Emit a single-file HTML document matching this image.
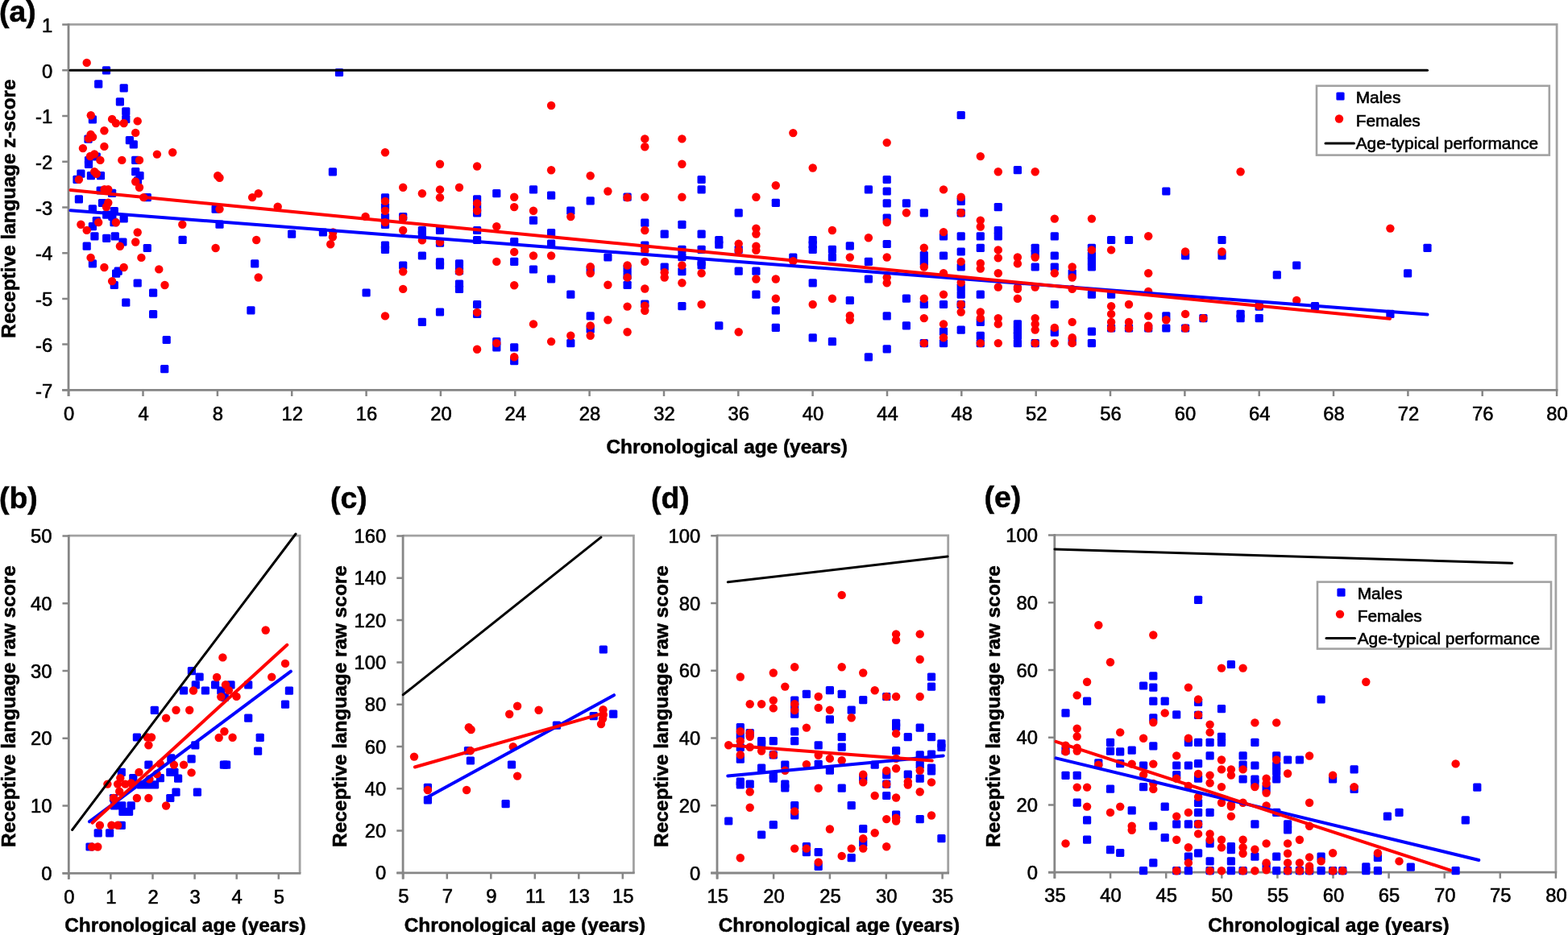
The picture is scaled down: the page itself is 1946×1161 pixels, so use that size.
<!DOCTYPE html>
<html lang="en"><head><meta charset="utf-8"><title>Receptive language by chronological age</title>
<style>
html,body{margin:0;padding:0;background:#fff;}
body{width:1946px;height:1161px;overflow:hidden;}
svg{display:block;font-family:'Liberation Sans', sans-serif;}
</style></head><body>
<svg width="1946" height="1161" viewBox="0 0 1946 1161">
<rect width="1946" height="1161" fill="#fff"/>
<g id="panel-a">
<path d="M85.2,30.3 H1932.1 V484.4" fill="none" stroke="#a2a2a2" stroke-width="2.8"/>
<path d="M85.0,29.1 V491.9 M77.2,484.4 H1933.4" fill="none" stroke="#868686" stroke-width="2.8"/>
<path d="M85.2,484.4 V491.9 M177.5,484.4 V491.9 M269.9,484.4 V491.9 M362.2,484.4 V491.9 M454.6,484.4 V491.9 M546.9,484.4 V491.9 M639.3,484.4 V491.9 M731.6,484.4 V491.9 M824.0,484.4 V491.9 M916.3,484.4 V491.9 M1008.6,484.4 V491.9 M1101.0,484.4 V491.9 M1193.3,484.4 V491.9 M1285.7,484.4 V491.9 M1378.0,484.4 V491.9 M1470.4,484.4 V491.9 M1562.7,484.4 V491.9 M1655.0,484.4 V491.9 M1747.4,484.4 V491.9 M1839.7,484.4 V491.9 M1932.1,484.4 V491.9 M77.2,30.6 H85.2 M77.2,87.3 H85.2 M77.2,144.0 H85.2 M77.2,200.7 H85.2 M77.2,257.5 H85.2 M77.2,314.2 H85.2 M77.2,370.9 H85.2 M77.2,427.6 H85.2 M77.2,484.3 H85.2" fill="none" stroke="#868686" stroke-width="2.5"/>
<g fill="#0000ff"><rect x="126.9" y="82.3" width="10.2" height="10.2" rx="1.5"/><rect x="117.1" y="99.3" width="10.2" height="10.2" rx="1.5"/><rect x="148.6" y="104.3" width="10.2" height="10.2" rx="1.5"/><rect x="143.8" y="121.3" width="10.2" height="10.2" rx="1.5"/><rect x="151.2" y="133.2" width="10.2" height="10.2" rx="1.5"/><rect x="151.2" y="142.8" width="10.2" height="10.2" rx="1.5"/><rect x="109.8" y="143.3" width="10.2" height="10.2" rx="1.5"/><rect x="104.4" y="167.6" width="10.2" height="10.2" rx="1.5"/><rect x="155.8" y="169.1" width="10.2" height="10.2" rx="1.5"/><rect x="160.7" y="174.3" width="10.2" height="10.2" rx="1.5"/><rect x="104.9" y="194.0" width="10.2" height="10.2" rx="1.5"/><rect x="104.9" y="198.9" width="10.2" height="10.2" rx="1.5"/><rect x="114.7" y="189.4" width="10.2" height="10.2" rx="1.5"/><rect x="163.1" y="193.8" width="10.2" height="10.2" rx="1.5"/><rect x="95.3" y="210.6" width="10.2" height="10.2" rx="1.5"/><rect x="163.1" y="208.0" width="10.2" height="10.2" rx="1.5"/><rect x="168.4" y="213.1" width="10.2" height="10.2" rx="1.5"/><rect x="90.4" y="217.8" width="10.2" height="10.2" rx="1.5"/><rect x="107.8" y="213.1" width="10.2" height="10.2" rx="1.5"/><rect x="119.9" y="213.1" width="10.2" height="10.2" rx="1.5"/><rect x="165.9" y="219.3" width="10.2" height="10.2" rx="1.5"/><rect x="119.6" y="231.4" width="10.2" height="10.2" rx="1.5"/><rect x="134.0" y="234.8" width="10.2" height="10.2" rx="1.5"/><rect x="177.7" y="240.0" width="10.2" height="10.2" rx="1.5"/><rect x="92.8" y="242.3" width="10.2" height="10.2" rx="1.5"/><rect x="121.9" y="246.9" width="10.2" height="10.2" rx="1.5"/><rect x="109.8" y="254.3" width="10.2" height="10.2" rx="1.5"/><rect x="136.7" y="257.1" width="10.2" height="10.2" rx="1.5"/><rect x="127.1" y="261.5" width="10.2" height="10.2" rx="1.5"/><rect x="134.3" y="263.8" width="10.2" height="10.2" rx="1.5"/><rect x="262.5" y="254.5" width="10.2" height="10.2" rx="1.5"/><rect x="148.6" y="266.4" width="10.2" height="10.2" rx="1.5"/><rect x="114.7" y="269.0" width="10.2" height="10.2" rx="1.5"/><rect x="136.4" y="271.0" width="10.2" height="10.2" rx="1.5"/><rect x="109.8" y="276.0" width="10.2" height="10.2" rx="1.5"/><rect x="267.4" y="273.6" width="10.2" height="10.2" rx="1.5"/><rect x="112.3" y="288.3" width="10.2" height="10.2" rx="1.5"/><rect x="137.7" y="288.3" width="10.2" height="10.2" rx="1.5"/><rect x="127.1" y="290.7" width="10.2" height="10.2" rx="1.5"/><rect x="221.5" y="292.7" width="10.2" height="10.2" rx="1.5"/><rect x="102.6" y="300.6" width="10.2" height="10.2" rx="1.5"/><rect x="147.3" y="295.4" width="10.2" height="10.2" rx="1.5"/><rect x="177.7" y="302.9" width="10.2" height="10.2" rx="1.5"/><rect x="109.8" y="322.3" width="10.2" height="10.2" rx="1.5"/><rect x="141.6" y="331.6" width="10.2" height="10.2" rx="1.5"/><rect x="139.0" y="334.5" width="10.2" height="10.2" rx="1.5"/><rect x="136.7" y="348.9" width="10.2" height="10.2" rx="1.5"/><rect x="165.6" y="346.4" width="10.2" height="10.2" rx="1.5"/><rect x="185.0" y="358.5" width="10.2" height="10.2" rx="1.5"/><rect x="151.2" y="370.6" width="10.2" height="10.2" rx="1.5"/><rect x="185.0" y="385.0" width="10.2" height="10.2" rx="1.5"/><rect x="201.6" y="416.9" width="10.2" height="10.2" rx="1.5"/><rect x="199.1" y="453.0" width="10.2" height="10.2" rx="1.5"/><rect x="407.8" y="208.2" width="10.2" height="10.2" rx="1.5"/><rect x="357.0" y="285.5" width="10.2" height="10.2" rx="1.5"/><rect x="395.8" y="283.4" width="10.2" height="10.2" rx="1.5"/><rect x="311.1" y="322.3" width="10.2" height="10.2" rx="1.5"/><rect x="472.9" y="240.2" width="10.2" height="10.2" rx="1.5"/><rect x="472.9" y="252.0" width="10.2" height="10.2" rx="1.5"/><rect x="472.9" y="264.4" width="10.2" height="10.2" rx="1.5"/><rect x="472.9" y="273.7" width="10.2" height="10.2" rx="1.5"/><rect x="472.9" y="299.6" width="10.2" height="10.2" rx="1.5"/><rect x="472.9" y="304.7" width="10.2" height="10.2" rx="1.5"/><rect x="495.1" y="264.0" width="10.2" height="10.2" rx="1.5"/><rect x="495.1" y="324.4" width="10.2" height="10.2" rx="1.5"/><rect x="518.8" y="280.9" width="10.2" height="10.2" rx="1.5"/><rect x="518.8" y="286.1" width="10.2" height="10.2" rx="1.5"/><rect x="518.8" y="312.4" width="10.2" height="10.2" rx="1.5"/><rect x="540.9" y="280.9" width="10.2" height="10.2" rx="1.5"/><rect x="540.9" y="296.5" width="10.2" height="10.2" rx="1.5"/><rect x="540.9" y="320.2" width="10.2" height="10.2" rx="1.5"/><rect x="540.9" y="324.4" width="10.2" height="10.2" rx="1.5"/><rect x="564.9" y="322.3" width="10.2" height="10.2" rx="1.5"/><rect x="587.0" y="242.3" width="10.2" height="10.2" rx="1.5"/><rect x="587.0" y="252.0" width="10.2" height="10.2" rx="1.5"/><rect x="587.0" y="259.2" width="10.2" height="10.2" rx="1.5"/><rect x="587.0" y="280.9" width="10.2" height="10.2" rx="1.5"/><rect x="587.0" y="292.9" width="10.2" height="10.2" rx="1.5"/><rect x="611.2" y="235.1" width="10.2" height="10.2" rx="1.5"/><rect x="633.1" y="295.0" width="10.2" height="10.2" rx="1.5"/><rect x="633.1" y="319.8" width="10.2" height="10.2" rx="1.5"/><rect x="656.9" y="230.3" width="10.2" height="10.2" rx="1.5"/><rect x="656.9" y="268.5" width="10.2" height="10.2" rx="1.5"/><rect x="679.0" y="237.5" width="10.2" height="10.2" rx="1.5"/><rect x="679.0" y="284.0" width="10.2" height="10.2" rx="1.5"/><rect x="679.0" y="297.5" width="10.2" height="10.2" rx="1.5"/><rect x="703.2" y="256.6" width="10.2" height="10.2" rx="1.5"/><rect x="727.6" y="244.2" width="10.2" height="10.2" rx="1.5"/><rect x="749.3" y="314.4" width="10.2" height="10.2" rx="1.5"/><rect x="773.5" y="239.6" width="10.2" height="10.2" rx="1.5"/><rect x="773.5" y="328.5" width="10.2" height="10.2" rx="1.5"/><rect x="795.2" y="271.6" width="10.2" height="10.2" rx="1.5"/><rect x="795.2" y="299.6" width="10.2" height="10.2" rx="1.5"/><rect x="819.6" y="285.5" width="10.2" height="10.2" rx="1.5"/><rect x="819.6" y="326.4" width="10.2" height="10.2" rx="1.5"/><rect x="841.3" y="273.7" width="10.2" height="10.2" rx="1.5"/><rect x="841.3" y="304.7" width="10.2" height="10.2" rx="1.5"/><rect x="841.3" y="314.0" width="10.2" height="10.2" rx="1.5"/><rect x="865.5" y="217.9" width="10.2" height="10.2" rx="1.5"/><rect x="865.5" y="230.3" width="10.2" height="10.2" rx="1.5"/><rect x="865.5" y="285.5" width="10.2" height="10.2" rx="1.5"/><rect x="865.5" y="304.7" width="10.2" height="10.2" rx="1.5"/><rect x="865.5" y="320.2" width="10.2" height="10.2" rx="1.5"/><rect x="865.5" y="324.4" width="10.2" height="10.2" rx="1.5"/><rect x="887.2" y="292.9" width="10.2" height="10.2" rx="1.5"/><rect x="887.2" y="298.5" width="10.2" height="10.2" rx="1.5"/><rect x="911.6" y="259.2" width="10.2" height="10.2" rx="1.5"/><rect x="911.6" y="304.7" width="10.2" height="10.2" rx="1.5"/><rect x="957.7" y="246.8" width="10.2" height="10.2" rx="1.5"/><rect x="979.2" y="314.4" width="10.2" height="10.2" rx="1.5"/><rect x="1003.6" y="292.9" width="10.2" height="10.2" rx="1.5"/><rect x="1003.6" y="298.5" width="10.2" height="10.2" rx="1.5"/><rect x="1003.6" y="304.7" width="10.2" height="10.2" rx="1.5"/><rect x="1027.8" y="304.7" width="10.2" height="10.2" rx="1.5"/><rect x="1027.8" y="314.4" width="10.2" height="10.2" rx="1.5"/><rect x="1049.7" y="300.2" width="10.2" height="10.2" rx="1.5"/><rect x="1072.8" y="230.3" width="10.2" height="10.2" rx="1.5"/><rect x="1072.8" y="319.8" width="10.2" height="10.2" rx="1.5"/><rect x="1095.6" y="217.9" width="10.2" height="10.2" rx="1.5"/><rect x="1095.6" y="232.4" width="10.2" height="10.2" rx="1.5"/><rect x="1095.6" y="247.3" width="10.2" height="10.2" rx="1.5"/><rect x="1095.6" y="265.4" width="10.2" height="10.2" rx="1.5"/><rect x="1095.6" y="297.9" width="10.2" height="10.2" rx="1.5"/><rect x="1119.8" y="247.3" width="10.2" height="10.2" rx="1.5"/><rect x="1141.7" y="259.2" width="10.2" height="10.2" rx="1.5"/><rect x="1141.7" y="312.0" width="10.2" height="10.2" rx="1.5"/><rect x="1141.7" y="320.2" width="10.2" height="10.2" rx="1.5"/><rect x="1165.9" y="288.2" width="10.2" height="10.2" rx="1.5"/><rect x="1165.9" y="312.4" width="10.2" height="10.2" rx="1.5"/><rect x="1187.6" y="137.9" width="10.2" height="10.2" rx="1.5"/><rect x="1187.6" y="244.8" width="10.2" height="10.2" rx="1.5"/><rect x="1187.6" y="259.2" width="10.2" height="10.2" rx="1.5"/><rect x="1187.6" y="288.2" width="10.2" height="10.2" rx="1.5"/><rect x="1187.6" y="307.4" width="10.2" height="10.2" rx="1.5"/><rect x="1187.6" y="326.4" width="10.2" height="10.2" rx="1.5"/><rect x="1211.7" y="288.2" width="10.2" height="10.2" rx="1.5"/><rect x="1211.7" y="302.7" width="10.2" height="10.2" rx="1.5"/><rect x="1233.7" y="252.0" width="10.2" height="10.2" rx="1.5"/><rect x="1233.7" y="280.9" width="10.2" height="10.2" rx="1.5"/><rect x="1233.7" y="288.2" width="10.2" height="10.2" rx="1.5"/><rect x="1257.8" y="206.1" width="10.2" height="10.2" rx="1.5"/><rect x="1279.6" y="302.7" width="10.2" height="10.2" rx="1.5"/><rect x="1279.6" y="309.9" width="10.2" height="10.2" rx="1.5"/><rect x="1279.6" y="326.4" width="10.2" height="10.2" rx="1.5"/><rect x="1303.7" y="288.2" width="10.2" height="10.2" rx="1.5"/><rect x="1303.7" y="312.4" width="10.2" height="10.2" rx="1.5"/><rect x="1303.7" y="326.4" width="10.2" height="10.2" rx="1.5"/><rect x="1349.8" y="302.7" width="10.2" height="10.2" rx="1.5"/><rect x="1349.8" y="312.0" width="10.2" height="10.2" rx="1.5"/><rect x="1349.8" y="319.2" width="10.2" height="10.2" rx="1.5"/><rect x="1349.8" y="326.4" width="10.2" height="10.2" rx="1.5"/><rect x="1374.0" y="292.9" width="10.2" height="10.2" rx="1.5"/><rect x="1395.9" y="292.9" width="10.2" height="10.2" rx="1.5"/><rect x="1442.2" y="232.4" width="10.2" height="10.2" rx="1.5"/><rect x="1466.0" y="312.4" width="10.2" height="10.2" rx="1.5"/><rect x="1511.4" y="292.9" width="10.2" height="10.2" rx="1.5"/><rect x="1511.4" y="312.4" width="10.2" height="10.2" rx="1.5"/><rect x="1604.1" y="324.4" width="10.2" height="10.2" rx="1.5"/><rect x="1766.4" y="302.7" width="10.2" height="10.2" rx="1.5"/><rect x="306.3" y="380.3" width="10.2" height="10.2" rx="1.5"/><rect x="449.5" y="358.4" width="10.2" height="10.2" rx="1.5"/><rect x="518.8" y="394.8" width="10.2" height="10.2" rx="1.5"/><rect x="540.9" y="382.4" width="10.2" height="10.2" rx="1.5"/><rect x="564.9" y="331.1" width="10.2" height="10.2" rx="1.5"/><rect x="564.9" y="347.6" width="10.2" height="10.2" rx="1.5"/><rect x="564.9" y="353.8" width="10.2" height="10.2" rx="1.5"/><rect x="587.0" y="372.9" width="10.2" height="10.2" rx="1.5"/><rect x="587.0" y="384.8" width="10.2" height="10.2" rx="1.5"/><rect x="611.2" y="419.0" width="10.2" height="10.2" rx="1.5"/><rect x="611.2" y="426.2" width="10.2" height="10.2" rx="1.5"/><rect x="633.1" y="426.2" width="10.2" height="10.2" rx="1.5"/><rect x="633.1" y="443.1" width="10.2" height="10.2" rx="1.5"/><rect x="656.9" y="329.4" width="10.2" height="10.2" rx="1.5"/><rect x="679.0" y="341.4" width="10.2" height="10.2" rx="1.5"/><rect x="703.2" y="360.5" width="10.2" height="10.2" rx="1.5"/><rect x="703.2" y="421.0" width="10.2" height="10.2" rx="1.5"/><rect x="727.6" y="329.4" width="10.2" height="10.2" rx="1.5"/><rect x="727.6" y="387.3" width="10.2" height="10.2" rx="1.5"/><rect x="727.6" y="403.5" width="10.2" height="10.2" rx="1.5"/><rect x="773.5" y="337.3" width="10.2" height="10.2" rx="1.5"/><rect x="773.5" y="348.7" width="10.2" height="10.2" rx="1.5"/><rect x="795.2" y="372.4" width="10.2" height="10.2" rx="1.5"/><rect x="841.3" y="332.1" width="10.2" height="10.2" rx="1.5"/><rect x="841.3" y="375.1" width="10.2" height="10.2" rx="1.5"/><rect x="887.2" y="399.3" width="10.2" height="10.2" rx="1.5"/><rect x="911.6" y="331.5" width="10.2" height="10.2" rx="1.5"/><rect x="933.3" y="331.5" width="10.2" height="10.2" rx="1.5"/><rect x="933.3" y="360.5" width="10.2" height="10.2" rx="1.5"/><rect x="957.7" y="380.3" width="10.2" height="10.2" rx="1.5"/><rect x="957.7" y="401.8" width="10.2" height="10.2" rx="1.5"/><rect x="1003.6" y="346.2" width="10.2" height="10.2" rx="1.5"/><rect x="1003.6" y="414.2" width="10.2" height="10.2" rx="1.5"/><rect x="1027.8" y="419.0" width="10.2" height="10.2" rx="1.5"/><rect x="1049.7" y="367.9" width="10.2" height="10.2" rx="1.5"/><rect x="1072.8" y="341.4" width="10.2" height="10.2" rx="1.5"/><rect x="1072.8" y="438.2" width="10.2" height="10.2" rx="1.5"/><rect x="1095.6" y="387.3" width="10.2" height="10.2" rx="1.5"/><rect x="1095.6" y="428.3" width="10.2" height="10.2" rx="1.5"/><rect x="1119.8" y="365.6" width="10.2" height="10.2" rx="1.5"/><rect x="1119.8" y="399.3" width="10.2" height="10.2" rx="1.5"/><rect x="1141.7" y="372.9" width="10.2" height="10.2" rx="1.5"/><rect x="1141.7" y="421.0" width="10.2" height="10.2" rx="1.5"/><rect x="1165.9" y="372.9" width="10.2" height="10.2" rx="1.5"/><rect x="1165.9" y="406.6" width="10.2" height="10.2" rx="1.5"/><rect x="1165.9" y="421.0" width="10.2" height="10.2" rx="1.5"/><rect x="1187.6" y="351.8" width="10.2" height="10.2" rx="1.5"/><rect x="1187.6" y="360.5" width="10.2" height="10.2" rx="1.5"/><rect x="1187.6" y="372.9" width="10.2" height="10.2" rx="1.5"/><rect x="1187.6" y="404.5" width="10.2" height="10.2" rx="1.5"/><rect x="1211.7" y="360.5" width="10.2" height="10.2" rx="1.5"/><rect x="1211.7" y="394.8" width="10.2" height="10.2" rx="1.5"/><rect x="1211.7" y="411.7" width="10.2" height="10.2" rx="1.5"/><rect x="1211.7" y="421.0" width="10.2" height="10.2" rx="1.5"/><rect x="1257.8" y="397.3" width="10.2" height="10.2" rx="1.5"/><rect x="1257.8" y="404.5" width="10.2" height="10.2" rx="1.5"/><rect x="1257.8" y="411.7" width="10.2" height="10.2" rx="1.5"/><rect x="1257.8" y="421.0" width="10.2" height="10.2" rx="1.5"/><rect x="1279.6" y="421.0" width="10.2" height="10.2" rx="1.5"/><rect x="1303.7" y="372.9" width="10.2" height="10.2" rx="1.5"/><rect x="1303.7" y="407.6" width="10.2" height="10.2" rx="1.5"/><rect x="1325.6" y="334.2" width="10.2" height="10.2" rx="1.5"/><rect x="1325.6" y="419.0" width="10.2" height="10.2" rx="1.5"/><rect x="1349.8" y="360.5" width="10.2" height="10.2" rx="1.5"/><rect x="1349.8" y="406.6" width="10.2" height="10.2" rx="1.5"/><rect x="1349.8" y="421.0" width="10.2" height="10.2" rx="1.5"/><rect x="1374.0" y="360.5" width="10.2" height="10.2" rx="1.5"/><rect x="1374.0" y="402.4" width="10.2" height="10.2" rx="1.5"/><rect x="1395.9" y="402.4" width="10.2" height="10.2" rx="1.5"/><rect x="1420.1" y="402.4" width="10.2" height="10.2" rx="1.5"/><rect x="1442.2" y="387.3" width="10.2" height="10.2" rx="1.5"/><rect x="1442.2" y="402.4" width="10.2" height="10.2" rx="1.5"/><rect x="1466.0" y="402.4" width="10.2" height="10.2" rx="1.5"/><rect x="1488.3" y="390.0" width="10.2" height="10.2" rx="1.5"/><rect x="1534.5" y="384.8" width="10.2" height="10.2" rx="1.5"/><rect x="1534.5" y="390.0" width="10.2" height="10.2" rx="1.5"/><rect x="1557.6" y="375.5" width="10.2" height="10.2" rx="1.5"/><rect x="1557.6" y="390.0" width="10.2" height="10.2" rx="1.5"/><rect x="1579.7" y="336.3" width="10.2" height="10.2" rx="1.5"/><rect x="1626.9" y="375.1" width="10.2" height="10.2" rx="1.5"/><rect x="1720.3" y="384.8" width="10.2" height="10.2" rx="1.5"/><rect x="1742.0" y="334.2" width="10.2" height="10.2" rx="1.5"/><rect x="415.9" y="84.9" width="10.2" height="10.2" rx="1.5"/></g>
<g fill="#ff0000"><circle cx="107.7" cy="77.9" r="5.2"/><circle cx="112.8" cy="143.2" r="5.2"/><circle cx="139.1" cy="147.9" r="5.2"/><circle cx="143.9" cy="153.0" r="5.2"/><circle cx="153.7" cy="153.0" r="5.2"/><circle cx="170.7" cy="150.4" r="5.2"/><circle cx="129.4" cy="162.3" r="5.2"/><circle cx="168.2" cy="164.9" r="5.2"/><circle cx="112.6" cy="167.0" r="5.2"/><circle cx="115.1" cy="170.1" r="5.2"/><circle cx="110.0" cy="172.1" r="5.2"/><circle cx="102.9" cy="184.1" r="5.2"/><circle cx="129.4" cy="181.9" r="5.2"/><circle cx="112.0" cy="194.0" r="5.2"/><circle cx="117.2" cy="191.4" r="5.2"/><circle cx="124.4" cy="198.9" r="5.2"/><circle cx="151.3" cy="198.9" r="5.2"/><circle cx="173.0" cy="198.9" r="5.2"/><circle cx="194.9" cy="191.6" r="5.2"/><circle cx="214.2" cy="189.3" r="5.2"/><circle cx="117.2" cy="213.1" r="5.2"/><circle cx="119.8" cy="215.7" r="5.2"/><circle cx="97.9" cy="222.9" r="5.2"/><circle cx="270.2" cy="218.2" r="5.2"/><circle cx="272.5" cy="220.8" r="5.2"/><circle cx="168.2" cy="225.5" r="5.2"/><circle cx="173.0" cy="232.7" r="5.2"/><circle cx="129.6" cy="235.3" r="5.2"/><circle cx="134.3" cy="235.3" r="5.2"/><circle cx="178.2" cy="245.1" r="5.2"/><circle cx="134.3" cy="251.8" r="5.2"/><circle cx="132.0" cy="257.0" r="5.2"/><circle cx="272.5" cy="259.6" r="5.2"/><circle cx="122.2" cy="276.1" r="5.2"/><circle cx="143.9" cy="276.3" r="5.2"/><circle cx="100.4" cy="278.7" r="5.2"/><circle cx="107.7" cy="285.9" r="5.2"/><circle cx="226.3" cy="278.7" r="5.2"/><circle cx="170.7" cy="288.5" r="5.2"/><circle cx="168.2" cy="300.5" r="5.2"/><circle cx="148.9" cy="305.7" r="5.2"/><circle cx="267.6" cy="308.0" r="5.2"/><circle cx="112.6" cy="319.9" r="5.2"/><circle cx="175.4" cy="319.9" r="5.2"/><circle cx="129.4" cy="332.0" r="5.2"/><circle cx="153.7" cy="332.0" r="5.2"/><circle cx="197.3" cy="334.4" r="5.2"/><circle cx="139.1" cy="349.1" r="5.2"/><circle cx="204.5" cy="354.0" r="5.2"/><circle cx="313.1" cy="245.1" r="5.2"/><circle cx="320.7" cy="240.2" r="5.2"/><circle cx="344.7" cy="256.7" r="5.2"/><circle cx="318.2" cy="298.0" r="5.2"/><circle cx="413.3" cy="288.5" r="5.2"/><circle cx="412.9" cy="294.3" r="5.2"/><circle cx="410.2" cy="303.2" r="5.2"/><circle cx="453.6" cy="268.9" r="5.2"/><circle cx="478.0" cy="189.3" r="5.2"/><circle cx="478.0" cy="249.9" r="5.2"/><circle cx="478.0" cy="261.7" r="5.2"/><circle cx="478.0" cy="276.1" r="5.2"/><circle cx="500.2" cy="232.7" r="5.2"/><circle cx="500.2" cy="270.5" r="5.2"/><circle cx="500.2" cy="286.0" r="5.2"/><circle cx="523.9" cy="240.2" r="5.2"/><circle cx="523.9" cy="298.4" r="5.2"/><circle cx="546.0" cy="203.8" r="5.2"/><circle cx="546.0" cy="235.4" r="5.2"/><circle cx="546.0" cy="245.3" r="5.2"/><circle cx="546.0" cy="300.5" r="5.2"/><circle cx="570.0" cy="232.7" r="5.2"/><circle cx="592.1" cy="206.5" r="5.2"/><circle cx="592.1" cy="252.4" r="5.2"/><circle cx="592.1" cy="261.7" r="5.2"/><circle cx="616.3" cy="281.3" r="5.2"/><circle cx="616.3" cy="324.9" r="5.2"/><circle cx="638.2" cy="244.7" r="5.2"/><circle cx="638.2" cy="257.1" r="5.2"/><circle cx="638.2" cy="312.9" r="5.2"/><circle cx="662.0" cy="261.7" r="5.2"/><circle cx="662.0" cy="317.5" r="5.2"/><circle cx="684.1" cy="131.0" r="5.2"/><circle cx="684.1" cy="211.2" r="5.2"/><circle cx="684.1" cy="317.5" r="5.2"/><circle cx="708.3" cy="269.1" r="5.2"/><circle cx="732.7" cy="218.2" r="5.2"/><circle cx="732.7" cy="331.1" r="5.2"/><circle cx="754.4" cy="237.5" r="5.2"/><circle cx="778.6" cy="245.3" r="5.2"/><circle cx="778.6" cy="329.5" r="5.2"/><circle cx="800.3" cy="172.4" r="5.2"/><circle cx="800.3" cy="182.3" r="5.2"/><circle cx="800.3" cy="244.7" r="5.2"/><circle cx="800.3" cy="286.0" r="5.2"/><circle cx="800.3" cy="311.3" r="5.2"/><circle cx="800.3" cy="324.9" r="5.2"/><circle cx="846.4" cy="172.4" r="5.2"/><circle cx="846.4" cy="203.8" r="5.2"/><circle cx="846.4" cy="244.7" r="5.2"/><circle cx="846.4" cy="329.5" r="5.2"/><circle cx="916.7" cy="302.6" r="5.2"/><circle cx="916.7" cy="310.9" r="5.2"/><circle cx="938.4" cy="244.7" r="5.2"/><circle cx="938.4" cy="283.6" r="5.2"/><circle cx="938.4" cy="290.6" r="5.2"/><circle cx="938.4" cy="305.7" r="5.2"/><circle cx="938.4" cy="310.9" r="5.2"/><circle cx="962.8" cy="230.2" r="5.2"/><circle cx="984.3" cy="165.1" r="5.2"/><circle cx="984.3" cy="324.3" r="5.2"/><circle cx="1008.7" cy="208.5" r="5.2"/><circle cx="1032.9" cy="286.0" r="5.2"/><circle cx="1054.8" cy="319.5" r="5.2"/><circle cx="1077.9" cy="295.3" r="5.2"/><circle cx="1100.7" cy="177.1" r="5.2"/><circle cx="1100.7" cy="276.1" r="5.2"/><circle cx="1100.7" cy="319.5" r="5.2"/><circle cx="1124.9" cy="264.3" r="5.2"/><circle cx="1146.8" cy="307.8" r="5.2"/><circle cx="1146.8" cy="331.5" r="5.2"/><circle cx="1171.0" cy="235.4" r="5.2"/><circle cx="1171.0" cy="288.1" r="5.2"/><circle cx="1192.7" cy="244.7" r="5.2"/><circle cx="1192.7" cy="264.3" r="5.2"/><circle cx="1192.7" cy="324.9" r="5.2"/><circle cx="1216.8" cy="194.1" r="5.2"/><circle cx="1216.8" cy="273.6" r="5.2"/><circle cx="1216.8" cy="281.5" r="5.2"/><circle cx="1216.8" cy="327.0" r="5.2"/><circle cx="1216.8" cy="333.6" r="5.2"/><circle cx="1238.8" cy="213.3" r="5.2"/><circle cx="1238.8" cy="310.4" r="5.2"/><circle cx="1238.8" cy="320.2" r="5.2"/><circle cx="1262.9" cy="319.5" r="5.2"/><circle cx="1262.9" cy="327.4" r="5.2"/><circle cx="1284.7" cy="213.3" r="5.2"/><circle cx="1284.7" cy="319.5" r="5.2"/><circle cx="1308.8" cy="271.6" r="5.2"/><circle cx="1330.7" cy="331.5" r="5.2"/><circle cx="1354.9" cy="271.6" r="5.2"/><circle cx="1354.9" cy="310.4" r="5.2"/><circle cx="1379.1" cy="310.4" r="5.2"/><circle cx="1425.2" cy="293.3" r="5.2"/><circle cx="1471.1" cy="312.5" r="5.2"/><circle cx="1516.5" cy="312.5" r="5.2"/><circle cx="1539.6" cy="213.3" r="5.2"/><circle cx="1725.4" cy="283.6" r="5.2"/><circle cx="320.7" cy="344.5" r="5.2"/><circle cx="478.0" cy="392.4" r="5.2"/><circle cx="500.2" cy="337.2" r="5.2"/><circle cx="500.2" cy="358.9" r="5.2"/><circle cx="570.0" cy="337.2" r="5.2"/><circle cx="592.1" cy="387.9" r="5.2"/><circle cx="592.1" cy="433.8" r="5.2"/><circle cx="616.3" cy="426.1" r="5.2"/><circle cx="638.2" cy="354.2" r="5.2"/><circle cx="638.2" cy="443.3" r="5.2"/><circle cx="662.0" cy="402.4" r="5.2"/><circle cx="684.1" cy="424.1" r="5.2"/><circle cx="708.3" cy="416.8" r="5.2"/><circle cx="732.7" cy="339.3" r="5.2"/><circle cx="732.7" cy="404.4" r="5.2"/><circle cx="732.7" cy="416.8" r="5.2"/><circle cx="754.4" cy="353.8" r="5.2"/><circle cx="754.4" cy="397.2" r="5.2"/><circle cx="778.6" cy="344.5" r="5.2"/><circle cx="778.6" cy="380.6" r="5.2"/><circle cx="778.6" cy="412.3" r="5.2"/><circle cx="800.3" cy="358.5" r="5.2"/><circle cx="800.3" cy="379.6" r="5.2"/><circle cx="800.3" cy="385.8" r="5.2"/><circle cx="824.7" cy="338.3" r="5.2"/><circle cx="824.7" cy="344.5" r="5.2"/><circle cx="846.4" cy="351.3" r="5.2"/><circle cx="870.6" cy="339.3" r="5.2"/><circle cx="870.6" cy="378.0" r="5.2"/><circle cx="916.7" cy="412.3" r="5.2"/><circle cx="938.4" cy="346.5" r="5.2"/><circle cx="962.8" cy="346.5" r="5.2"/><circle cx="962.8" cy="370.7" r="5.2"/><circle cx="1008.7" cy="378.0" r="5.2"/><circle cx="1032.9" cy="370.7" r="5.2"/><circle cx="1054.8" cy="392.0" r="5.2"/><circle cx="1054.8" cy="397.2" r="5.2"/><circle cx="1100.7" cy="344.5" r="5.2"/><circle cx="1100.7" cy="351.3" r="5.2"/><circle cx="1146.8" cy="370.7" r="5.2"/><circle cx="1146.8" cy="395.1" r="5.2"/><circle cx="1146.8" cy="426.1" r="5.2"/><circle cx="1171.0" cy="339.3" r="5.2"/><circle cx="1171.0" cy="365.6" r="5.2"/><circle cx="1171.0" cy="402.4" r="5.2"/><circle cx="1171.0" cy="419.3" r="5.2"/><circle cx="1192.7" cy="350.7" r="5.2"/><circle cx="1192.7" cy="378.0" r="5.2"/><circle cx="1192.7" cy="387.5" r="5.2"/><circle cx="1216.8" cy="387.5" r="5.2"/><circle cx="1216.8" cy="395.1" r="5.2"/><circle cx="1216.8" cy="426.1" r="5.2"/><circle cx="1238.8" cy="339.3" r="5.2"/><circle cx="1238.8" cy="356.5" r="5.2"/><circle cx="1238.8" cy="395.1" r="5.2"/><circle cx="1238.8" cy="402.4" r="5.2"/><circle cx="1238.8" cy="426.1" r="5.2"/><circle cx="1262.9" cy="356.5" r="5.2"/><circle cx="1262.9" cy="358.9" r="5.2"/><circle cx="1262.9" cy="370.7" r="5.2"/><circle cx="1284.7" cy="356.5" r="5.2"/><circle cx="1284.7" cy="395.1" r="5.2"/><circle cx="1284.7" cy="402.4" r="5.2"/><circle cx="1284.7" cy="409.6" r="5.2"/><circle cx="1284.7" cy="426.1" r="5.2"/><circle cx="1308.8" cy="339.3" r="5.2"/><circle cx="1308.8" cy="406.9" r="5.2"/><circle cx="1308.8" cy="426.1" r="5.2"/><circle cx="1330.7" cy="344.5" r="5.2"/><circle cx="1330.7" cy="358.9" r="5.2"/><circle cx="1330.7" cy="399.9" r="5.2"/><circle cx="1330.7" cy="419.3" r="5.2"/><circle cx="1330.7" cy="426.1" r="5.2"/><circle cx="1379.1" cy="380.2" r="5.2"/><circle cx="1379.1" cy="389.9" r="5.2"/><circle cx="1379.1" cy="399.9" r="5.2"/><circle cx="1379.1" cy="407.5" r="5.2"/><circle cx="1401.0" cy="378.0" r="5.2"/><circle cx="1401.0" cy="399.9" r="5.2"/><circle cx="1401.0" cy="407.5" r="5.2"/><circle cx="1425.2" cy="339.3" r="5.2"/><circle cx="1425.2" cy="362.0" r="5.2"/><circle cx="1425.2" cy="392.4" r="5.2"/><circle cx="1425.2" cy="404.4" r="5.2"/><circle cx="1425.2" cy="407.5" r="5.2"/><circle cx="1447.3" cy="397.2" r="5.2"/><circle cx="1471.1" cy="389.9" r="5.2"/><circle cx="1471.1" cy="407.5" r="5.2"/><circle cx="1493.4" cy="395.1" r="5.2"/><circle cx="1562.7" cy="379.6" r="5.2"/><circle cx="1609.2" cy="373.0" r="5.2"/></g>
<line x1="87.5" y1="261.3" x2="1771.5" y2="390.6" stroke="#0000ff" stroke-width="4" stroke-linecap="round"/>
<line x1="87.5" y1="236" x2="1725" y2="395.7" stroke="#ff0000" stroke-width="4" stroke-linecap="round"/>
<line x1="87" y1="87.2" x2="1771.5" y2="87.2" stroke="#000" stroke-width="3" stroke-linecap="round"/>
<g font-size="23.8" fill="#000" stroke="#000" stroke-width="0.6" text-anchor="middle">
<text x="85.7" y="521.6">0</text>
<text x="178.0" y="521.6">4</text>
<text x="270.4" y="521.6">8</text>
<text x="362.7" y="521.6">12</text>
<text x="455.1" y="521.6">16</text>
<text x="547.4" y="521.6">20</text>
<text x="639.8" y="521.6">24</text>
<text x="732.1" y="521.6">28</text>
<text x="824.5" y="521.6">32</text>
<text x="916.8" y="521.6">36</text>
<text x="1009.1" y="521.6">40</text>
<text x="1101.5" y="521.6">44</text>
<text x="1193.8" y="521.6">48</text>
<text x="1286.2" y="521.6">52</text>
<text x="1378.5" y="521.6">56</text>
<text x="1470.9" y="521.6">60</text>
<text x="1563.2" y="521.6">64</text>
<text x="1655.5" y="521.6">68</text>
<text x="1747.9" y="521.6">72</text>
<text x="1840.2" y="521.6">76</text>
<text x="1932.6" y="521.6">80</text>
</g>
<g font-size="23.8" fill="#000" stroke="#000" stroke-width="0.6" text-anchor="end">
<text x="65.2" y="39.8">1</text>
<text x="65.2" y="96.5">0</text>
<text x="65.2" y="153.2">-1</text>
<text x="65.2" y="209.9">-2</text>
<text x="65.2" y="266.7">-3</text>
<text x="65.2" y="323.4">-4</text>
<text x="65.2" y="380.1">-5</text>
<text x="65.2" y="436.8">-6</text>
<text x="65.2" y="493.5">-7</text>
</g>
<text x="-1" y="27.2" font-size="37.4" font-weight="bold" stroke="#000" stroke-width="0.5">(a)</text>
<text transform="translate(19.3,259) rotate(-90)" text-anchor="middle" font-size="24.4" font-weight="bold" stroke="#000" stroke-width="0.5">Receptive language z-score</text>
<text x="902.1999999999999" y="563.1" text-anchor="middle" font-size="24.4" font-weight="bold" stroke="#000" stroke-width="0.5">Chronological age (years)</text>
</g>
<rect x="1634" y="106.6" width="288.8" height="86" fill="#fff" stroke="#a2a2a2" stroke-width="2.6"/>
<rect x="1658.4" y="114.4" width="10.2" height="10.2" rx="1.5" fill="#0000ff"/>
<circle cx="1662.0" cy="147.5" r="5.2" fill="#ff0000"/>
<line x1="1645.0" y1="178.0" x2="1680.5" y2="178.0" stroke="#000" stroke-width="3" stroke-linecap="round"/>
<g font-size="20.9" fill="#000" stroke="#000" stroke-width="0.6">
<text x="1682.7" y="128.0">Males</text>
<text x="1682.7" y="156.5">Females</text>
<text x="1682.7" y="185.0">Age-typical performance</text>
</g>
<g id="panel-b">
<path d="M85.5,665.2 H372.1 V1084.3" fill="none" stroke="#a2a2a2" stroke-width="2.8"/>
<path d="M85.3,664.0 V1091.8 M77.5,1084.3 H373.4" fill="none" stroke="#868686" stroke-width="2.8"/>
<path d="M85.3,1084.3 V1091.8 M137.4,1084.3 V1091.8 M189.5,1084.3 V1091.8 M241.6,1084.3 V1091.8 M293.7,1084.3 V1091.8 M345.8,1084.3 V1091.8 M77.5,1084.3 H85.5 M77.5,1000.5 H85.5 M77.5,916.8 H85.5 M77.5,833.0 H85.5 M77.5,749.3 H85.5 M77.5,665.5 H85.5" fill="none" stroke="#868686" stroke-width="2.5"/>
<g fill="#0000ff"><rect x="232.8" y="828.1" width="10.2" height="10.2" rx="1.5"/><rect x="242.5" y="835.4" width="10.2" height="10.2" rx="1.5"/><rect x="237.7" y="845.2" width="10.2" height="10.2" rx="1.5"/><rect x="222.9" y="852.4" width="10.2" height="10.2" rx="1.5"/><rect x="249.8" y="852.4" width="10.2" height="10.2" rx="1.5"/><rect x="262.0" y="845.2" width="10.2" height="10.2" rx="1.5"/><rect x="269.2" y="852.4" width="10.2" height="10.2" rx="1.5"/><rect x="186.7" y="876.7" width="10.2" height="10.2" rx="1.5"/><rect x="164.8" y="910.4" width="10.2" height="10.2" rx="1.5"/><rect x="237.2" y="920.2" width="10.2" height="10.2" rx="1.5"/><rect x="207.2" y="936.2" width="10.2" height="10.2" rx="1.5"/><rect x="232.5" y="937.3" width="10.2" height="10.2" rx="1.5"/><rect x="179.3" y="944.5" width="10.2" height="10.2" rx="1.5"/><rect x="272.8" y="944.5" width="10.2" height="10.2" rx="1.5"/><rect x="145.7" y="953.8" width="10.2" height="10.2" rx="1.5"/><rect x="206.2" y="953.8" width="10.2" height="10.2" rx="1.5"/><rect x="211.3" y="953.8" width="10.2" height="10.2" rx="1.5"/><rect x="160.2" y="961.0" width="10.2" height="10.2" rx="1.5"/><rect x="193.8" y="961.0" width="10.2" height="10.2" rx="1.5"/><rect x="216.0" y="961.6" width="10.2" height="10.2" rx="1.5"/><rect x="169.5" y="969.3" width="10.2" height="10.2" rx="1.5"/><rect x="178.3" y="969.3" width="10.2" height="10.2" rx="1.5"/><rect x="187.0" y="969.3" width="10.2" height="10.2" rx="1.5"/><rect x="213.4" y="978.6" width="10.2" height="10.2" rx="1.5"/><rect x="239.8" y="978.6" width="10.2" height="10.2" rx="1.5"/><rect x="135.9" y="985.9" width="10.2" height="10.2" rx="1.5"/><rect x="206.2" y="985.9" width="10.2" height="10.2" rx="1.5"/><rect x="136.9" y="995.2" width="10.2" height="10.2" rx="1.5"/><rect x="146.2" y="995.2" width="10.2" height="10.2" rx="1.5"/><rect x="157.6" y="995.2" width="10.2" height="10.2" rx="1.5"/><rect x="147.3" y="1002.9" width="10.2" height="10.2" rx="1.5"/><rect x="155.0" y="1002.9" width="10.2" height="10.2" rx="1.5"/><rect x="145.7" y="1019.7" width="10.2" height="10.2" rx="1.5"/><rect x="116.6" y="1029.3" width="10.2" height="10.2" rx="1.5"/><rect x="131.0" y="1029.3" width="10.2" height="10.2" rx="1.5"/><rect x="106.4" y="1046.4" width="10.2" height="10.2" rx="1.5"/><rect x="281.4" y="845.3" width="10.2" height="10.2" rx="1.5"/><rect x="303.1" y="845.3" width="10.2" height="10.2" rx="1.5"/><rect x="353.8" y="852.6" width="10.2" height="10.2" rx="1.5"/><rect x="348.9" y="869.6" width="10.2" height="10.2" rx="1.5"/><rect x="273.7" y="860.8" width="10.2" height="10.2" rx="1.5"/><rect x="303.1" y="886.6" width="10.2" height="10.2" rx="1.5"/><rect x="317.6" y="910.7" width="10.2" height="10.2" rx="1.5"/><rect x="315.0" y="927.6" width="10.2" height="10.2" rx="1.5"/><rect x="276.0" y="944.6" width="10.2" height="10.2" rx="1.5"/></g>
<g fill="#ff0000"><circle cx="276.4" cy="816.4" r="5.2"/><circle cx="269.1" cy="841.0" r="5.2"/><circle cx="240.0" cy="857.5" r="5.2"/><circle cx="218.5" cy="881.8" r="5.2"/><circle cx="235.2" cy="881.8" r="5.2"/><circle cx="206.1" cy="891.6" r="5.2"/><circle cx="274.3" cy="865.3" r="5.2"/><circle cx="280.0" cy="850.3" r="5.2"/><circle cx="182.8" cy="915.5" r="5.2"/><circle cx="188.0" cy="915.5" r="5.2"/><circle cx="184.4" cy="925.3" r="5.2"/><circle cx="271.7" cy="916.0" r="5.2"/><circle cx="278.4" cy="908.3" r="5.2"/><circle cx="215.9" cy="949.6" r="5.2"/><circle cx="228.0" cy="949.6" r="5.2"/><circle cx="198.9" cy="948.6" r="5.2"/><circle cx="172.5" cy="958.9" r="5.2"/><circle cx="237.6" cy="959.4" r="5.2"/><circle cx="194.7" cy="961.0" r="5.2"/><circle cx="149.3" cy="966.1" r="5.2"/><circle cx="185.4" cy="967.2" r="5.2"/><circle cx="133.4" cy="973.6" r="5.2"/><circle cx="146.1" cy="973.6" r="5.2"/><circle cx="155.5" cy="973.6" r="5.2"/><circle cx="162.7" cy="972.4" r="5.2"/><circle cx="148.2" cy="982.7" r="5.2"/><circle cx="141.0" cy="991.0" r="5.2"/><circle cx="169.9" cy="991.0" r="5.2"/><circle cx="184.4" cy="991.0" r="5.2"/><circle cx="206.1" cy="1000.5" r="5.2"/><circle cx="123.9" cy="1024.8" r="5.2"/><circle cx="138.4" cy="1024.8" r="5.2"/><circle cx="146.1" cy="1024.8" r="5.2"/><circle cx="114.1" cy="1051.5" r="5.2"/><circle cx="121.3" cy="1051.5" r="5.2"/><circle cx="329.7" cy="782.5" r="5.2"/><circle cx="354.0" cy="823.9" r="5.2"/><circle cx="337.2" cy="840.6" r="5.2"/><circle cx="283.9" cy="857.2" r="5.2"/><circle cx="293.5" cy="864.9" r="5.2"/><circle cx="288.6" cy="915.8" r="5.2"/></g>
<line x1="111" y1="1020.2" x2="360.9" y2="833.6" stroke="#0000ff" stroke-width="4" stroke-linecap="round"/>
<line x1="114.6" y1="1021.7" x2="356.3" y2="800.8" stroke="#ff0000" stroke-width="4" stroke-linecap="round"/>
<line x1="89.6" y1="1030.5" x2="367" y2="663" stroke="#000" stroke-width="3" stroke-linecap="round"/>
<g font-size="23.8" fill="#000" stroke="#000" stroke-width="0.6" text-anchor="middle">
<text x="85.8" y="1121.5">0</text>
<text x="137.9" y="1121.5">1</text>
<text x="190.0" y="1121.5">2</text>
<text x="242.1" y="1121.5">3</text>
<text x="294.2" y="1121.5">4</text>
<text x="346.3" y="1121.5">5</text>
</g>
<g font-size="23.8" fill="#000" stroke="#000" stroke-width="0.6" text-anchor="end">
<text x="64.5" y="1092.8">0</text>
<text x="64.5" y="1009.0">10</text>
<text x="64.5" y="925.3">20</text>
<text x="64.5" y="841.5">30</text>
<text x="64.5" y="757.8">40</text>
<text x="64.5" y="674.0">50</text>
</g>
<text x="-1" y="631.2" font-size="37.4" font-weight="bold" stroke="#000" stroke-width="0.5">(b)</text>
<text transform="translate(19.3,877) rotate(-90)" text-anchor="middle" font-size="24.4" font-weight="bold" stroke="#000" stroke-width="0.5">Receptive language raw score</text>
<text x="229.9" y="1156.5" text-anchor="middle" font-size="24.4" font-weight="bold" stroke="#000" stroke-width="0.5">Chronological age (years)</text>
</g>
<g id="panel-c">
<path d="M500.3,665.2 H786.4 V1083.9" fill="none" stroke="#a2a2a2" stroke-width="2.8"/>
<path d="M500.1,664.0 V1091.4 M492.3,1083.9 H787.7" fill="none" stroke="#868686" stroke-width="2.8"/>
<path d="M500.3,1083.9 V1091.4 M554.8,1083.9 V1091.4 M609.3,1083.9 V1091.4 M663.8,1083.9 V1091.4 M718.3,1083.9 V1091.4 M772.8,1083.9 V1091.4 M492.3,1083.9 H500.3 M492.3,1031.6 H500.3 M492.3,979.3 H500.3 M492.3,927.0 H500.3 M492.3,874.7 H500.3 M492.3,822.4 H500.3 M492.3,770.1 H500.3 M492.3,717.8 H500.3 M492.3,665.5 H500.3" fill="none" stroke="#868686" stroke-width="2.5"/>
<g fill="#0000ff"><rect x="743.7" y="801.4" width="10.2" height="10.2" rx="1.5"/><rect x="685.8" y="895.6" width="10.2" height="10.2" rx="1.5"/><rect x="731.6" y="884.0" width="10.2" height="10.2" rx="1.5"/><rect x="756.1" y="881.6" width="10.2" height="10.2" rx="1.5"/><rect x="575.9" y="927.0" width="10.2" height="10.2" rx="1.5"/><rect x="578.8" y="939.4" width="10.2" height="10.2" rx="1.5"/><rect x="629.9" y="944.4" width="10.2" height="10.2" rx="1.5"/><rect x="525.8" y="972.7" width="10.2" height="10.2" rx="1.5"/><rect x="525.8" y="988.3" width="10.2" height="10.2" rx="1.5"/><rect x="622.5" y="993.0" width="10.2" height="10.2" rx="1.5"/></g>
<g fill="#ff0000"><circle cx="642.1" cy="876.7" r="5.2"/><circle cx="632.2" cy="886.7" r="5.2"/><circle cx="668.6" cy="881.7" r="5.2"/><circle cx="581.8" cy="903.2" r="5.2"/><circle cx="584.6" cy="906.0" r="5.2"/><circle cx="748.5" cy="881.2" r="5.2"/><circle cx="748.8" cy="887.5" r="5.2"/><circle cx="748.0" cy="892.5" r="5.2"/><circle cx="746.0" cy="899.1" r="5.2"/><circle cx="636.8" cy="927.2" r="5.2"/><circle cx="583.9" cy="932.1" r="5.2"/><circle cx="514.0" cy="939.6" r="5.2"/><circle cx="642.1" cy="963.6" r="5.2"/><circle cx="530.9" cy="981.0" r="5.2"/><circle cx="579.1" cy="981.0" r="5.2"/></g>
<line x1="529.9" y1="990.3" x2="762" y2="863.2" stroke="#0000ff" stroke-width="4" stroke-linecap="round"/>
<line x1="514.8" y1="952.5" x2="748" y2="885.8" stroke="#ff0000" stroke-width="4" stroke-linecap="round"/>
<line x1="500.3" y1="862.7" x2="745.9" y2="667.2" stroke="#000" stroke-width="3" stroke-linecap="round"/>
<g font-size="23.8" fill="#000" stroke="#000" stroke-width="0.6" text-anchor="middle">
<text x="500.8" y="1121.1">5</text>
<text x="555.3" y="1121.1">7</text>
<text x="609.8" y="1121.1">9</text>
<text x="664.3" y="1121.1">11</text>
<text x="718.8" y="1121.1">13</text>
<text x="773.3" y="1121.1">15</text>
</g>
<g font-size="23.8" fill="#000" stroke="#000" stroke-width="0.6" text-anchor="end">
<text x="479.3" y="1092.4">0</text>
<text x="479.3" y="1040.1">20</text>
<text x="479.3" y="987.8">40</text>
<text x="479.3" y="935.5">60</text>
<text x="479.3" y="883.2">80</text>
<text x="479.3" y="830.9">100</text>
<text x="479.3" y="778.6">120</text>
<text x="479.3" y="726.3">140</text>
<text x="479.3" y="674.0">160</text>
</g>
<text x="410" y="631.2" font-size="37.4" font-weight="bold" stroke="#000" stroke-width="0.5">(c)</text>
<text transform="translate(429.5,877) rotate(-90)" text-anchor="middle" font-size="24.4" font-weight="bold" stroke="#000" stroke-width="0.5">Receptive language raw score</text>
<text x="651.4" y="1156.5" text-anchor="middle" font-size="24.4" font-weight="bold" stroke="#000" stroke-width="0.5">Chronological age (years)</text>
</g>
<g id="panel-d">
<path d="M890.2,664.9 H1176.7 V1084" fill="none" stroke="#a2a2a2" stroke-width="2.8"/>
<path d="M890.0,663.7 V1091.5 M882.2,1084 H1178.0" fill="none" stroke="#868686" stroke-width="2.8"/>
<path d="M890.2,1084 V1091.5 M960.1,1084 V1091.5 M1029.9,1084 V1091.5 M1099.8,1084 V1091.5 M1169.6,1084 V1091.5 M882.2,1084.0 H890.2 M882.2,1000.2 H890.2 M882.2,916.5 H890.2 M882.2,832.7 H890.2 M882.2,749.0 H890.2 M882.2,665.2 H890.2" fill="none" stroke="#868686" stroke-width="2.5"/>
<g fill="#0000ff"><rect x="981.1" y="864.5" width="10.2" height="10.2" rx="1.5"/><rect x="981.1" y="873.0" width="10.2" height="10.2" rx="1.5"/><rect x="981.1" y="881.6" width="10.2" height="10.2" rx="1.5"/><rect x="995.8" y="856.8" width="10.2" height="10.2" rx="1.5"/><rect x="1024.8" y="852.1" width="10.2" height="10.2" rx="1.5"/><rect x="1024.8" y="888.2" width="10.2" height="10.2" rx="1.5"/><rect x="1039.6" y="856.8" width="10.2" height="10.2" rx="1.5"/><rect x="1051.6" y="876.5" width="10.2" height="10.2" rx="1.5"/><rect x="1066.1" y="864.0" width="10.2" height="10.2" rx="1.5"/><rect x="1095.1" y="859.9" width="10.2" height="10.2" rx="1.5"/><rect x="1150.9" y="835.4" width="10.2" height="10.2" rx="1.5"/><rect x="1150.9" y="847.5" width="10.2" height="10.2" rx="1.5"/><rect x="899.1" y="1014.4" width="10.2" height="10.2" rx="1.5"/><rect x="913.7" y="898.1" width="10.2" height="10.2" rx="1.5"/><rect x="913.7" y="908.2" width="10.2" height="10.2" rx="1.5"/><rect x="913.7" y="922.9" width="10.2" height="10.2" rx="1.5"/><rect x="913.7" y="937.6" width="10.2" height="10.2" rx="1.5"/><rect x="913.7" y="965.5" width="10.2" height="10.2" rx="1.5"/><rect x="913.7" y="969.4" width="10.2" height="10.2" rx="1.5"/><rect x="925.6" y="905.1" width="10.2" height="10.2" rx="1.5"/><rect x="925.6" y="968.6" width="10.2" height="10.2" rx="1.5"/><rect x="940.0" y="915.1" width="10.2" height="10.2" rx="1.5"/><rect x="940.0" y="918.2" width="10.2" height="10.2" rx="1.5"/><rect x="940.0" y="948.5" width="10.2" height="10.2" rx="1.5"/><rect x="940.0" y="1031.4" width="10.2" height="10.2" rx="1.5"/><rect x="954.7" y="915.1" width="10.2" height="10.2" rx="1.5"/><rect x="954.7" y="932.2" width="10.2" height="10.2" rx="1.5"/><rect x="954.7" y="957.8" width="10.2" height="10.2" rx="1.5"/><rect x="954.7" y="961.6" width="10.2" height="10.2" rx="1.5"/><rect x="954.7" y="1019.0" width="10.2" height="10.2" rx="1.5"/><rect x="969.2" y="944.6" width="10.2" height="10.2" rx="1.5"/><rect x="969.2" y="968.6" width="10.2" height="10.2" rx="1.5"/><rect x="969.2" y="973.3" width="10.2" height="10.2" rx="1.5"/><rect x="981.1" y="903.2" width="10.2" height="10.2" rx="1.5"/><rect x="981.1" y="915.1" width="10.2" height="10.2" rx="1.5"/><rect x="981.1" y="995.0" width="10.2" height="10.2" rx="1.5"/><rect x="981.1" y="1007.4" width="10.2" height="10.2" rx="1.5"/><rect x="995.8" y="1046.1" width="10.2" height="10.2" rx="1.5"/><rect x="995.8" y="1053.1" width="10.2" height="10.2" rx="1.5"/><rect x="1010.6" y="920.2" width="10.2" height="10.2" rx="1.5"/><rect x="1010.6" y="943.8" width="10.2" height="10.2" rx="1.5"/><rect x="1010.6" y="1053.1" width="10.2" height="10.2" rx="1.5"/><rect x="1024.8" y="951.6" width="10.2" height="10.2" rx="1.5"/><rect x="1039.6" y="910.0" width="10.2" height="10.2" rx="1.5"/><rect x="1039.6" y="922.6" width="10.2" height="10.2" rx="1.5"/><rect x="1039.6" y="973.6" width="10.2" height="10.2" rx="1.5"/><rect x="1051.6" y="995.0" width="10.2" height="10.2" rx="1.5"/><rect x="1051.6" y="1060.1" width="10.2" height="10.2" rx="1.5"/><rect x="1066.1" y="960.9" width="10.2" height="10.2" rx="1.5"/><rect x="1066.1" y="1024.1" width="10.2" height="10.2" rx="1.5"/><rect x="1066.1" y="1041.5" width="10.2" height="10.2" rx="1.5"/><rect x="1080.6" y="944.6" width="10.2" height="10.2" rx="1.5"/><rect x="1095.1" y="957.0" width="10.2" height="10.2" rx="1.5"/><rect x="1095.1" y="968.6" width="10.2" height="10.2" rx="1.5"/><rect x="1095.1" y="982.9" width="10.2" height="10.2" rx="1.5"/><rect x="1107.0" y="892.7" width="10.2" height="10.2" rx="1.5"/><rect x="1107.0" y="897.3" width="10.2" height="10.2" rx="1.5"/><rect x="1107.0" y="927.1" width="10.2" height="10.2" rx="1.5"/><rect x="1107.0" y="1006.6" width="10.2" height="10.2" rx="1.5"/><rect x="1121.7" y="910.0" width="10.2" height="10.2" rx="1.5"/><rect x="1121.7" y="956.5" width="10.2" height="10.2" rx="1.5"/><rect x="1136.6" y="898.5" width="10.2" height="10.2" rx="1.5"/><rect x="1136.6" y="932.2" width="10.2" height="10.2" rx="1.5"/><rect x="1136.6" y="944.6" width="10.2" height="10.2" rx="1.5"/><rect x="1136.6" y="961.6" width="10.2" height="10.2" rx="1.5"/><rect x="1136.6" y="1012.0" width="10.2" height="10.2" rx="1.5"/><rect x="1150.9" y="910.0" width="10.2" height="10.2" rx="1.5"/><rect x="1150.9" y="931.4" width="10.2" height="10.2" rx="1.5"/><rect x="1150.9" y="948.5" width="10.2" height="10.2" rx="1.5"/><rect x="1150.9" y="952.3" width="10.2" height="10.2" rx="1.5"/><rect x="1163.3" y="918.2" width="10.2" height="10.2" rx="1.5"/><rect x="1163.3" y="922.9" width="10.2" height="10.2" rx="1.5"/><rect x="1163.3" y="1036.1" width="10.2" height="10.2" rx="1.5"/><rect x="1010.6" y="1070.7" width="10.2" height="10.2" rx="1.5"/></g>
<g fill="#ff0000"><circle cx="918.8" cy="840.5" r="5.2"/><circle cx="930.7" cy="874.3" r="5.2"/><circle cx="945.1" cy="874.3" r="5.2"/><circle cx="959.8" cy="835.5" r="5.2"/><circle cx="959.8" cy="869.6" r="5.2"/><circle cx="959.8" cy="879.4" r="5.2"/><circle cx="974.3" cy="852.6" r="5.2"/><circle cx="986.2" cy="828.2" r="5.2"/><circle cx="986.2" cy="874.3" r="5.2"/><circle cx="986.2" cy="882.0" r="5.2"/><circle cx="1015.7" cy="865.0" r="5.2"/><circle cx="1015.7" cy="878.9" r="5.2"/><circle cx="1029.9" cy="881.6" r="5.2"/><circle cx="1044.7" cy="738.9" r="5.2"/><circle cx="1044.7" cy="828.2" r="5.2"/><circle cx="1056.7" cy="891.3" r="5.2"/><circle cx="1071.2" cy="835.5" r="5.2"/><circle cx="1085.7" cy="857.2" r="5.2"/><circle cx="1100.2" cy="865.0" r="5.2"/><circle cx="1112.1" cy="787.4" r="5.2"/><circle cx="1112.1" cy="794.7" r="5.2"/><circle cx="1112.1" cy="865.0" r="5.2"/><circle cx="1141.7" cy="787.4" r="5.2"/><circle cx="1141.7" cy="818.8" r="5.2"/><circle cx="1141.7" cy="865.0" r="5.2"/><circle cx="904.2" cy="925.3" r="5.2"/><circle cx="918.8" cy="908.3" r="5.2"/><circle cx="918.8" cy="920.2" r="5.2"/><circle cx="918.8" cy="937.3" r="5.2"/><circle cx="918.8" cy="1065.2" r="5.2"/><circle cx="930.7" cy="910.2" r="5.2"/><circle cx="930.7" cy="914.8" r="5.2"/><circle cx="930.7" cy="927.7" r="5.2"/><circle cx="930.7" cy="983.3" r="5.2"/><circle cx="930.7" cy="1002.7" r="5.2"/><circle cx="945.1" cy="932.6" r="5.2"/><circle cx="959.8" cy="937.3" r="5.2"/><circle cx="974.3" cy="956.7" r="5.2"/><circle cx="986.2" cy="1007.5" r="5.2"/><circle cx="986.2" cy="1053.6" r="5.2"/><circle cx="1000.9" cy="903.6" r="5.2"/><circle cx="1000.9" cy="949.2" r="5.2"/><circle cx="1000.9" cy="1053.6" r="5.2"/><circle cx="1015.7" cy="937.8" r="5.2"/><circle cx="1015.7" cy="978.7" r="5.2"/><circle cx="1029.9" cy="941.9" r="5.2"/><circle cx="1029.9" cy="1029.5" r="5.2"/><circle cx="1044.7" cy="944.3" r="5.2"/><circle cx="1044.7" cy="1062.9" r="5.2"/><circle cx="1056.7" cy="1053.6" r="5.2"/><circle cx="1071.2" cy="961.6" r="5.2"/><circle cx="1071.2" cy="971.4" r="5.2"/><circle cx="1071.2" cy="1041.2" r="5.2"/><circle cx="1071.2" cy="1053.6" r="5.2"/><circle cx="1085.7" cy="988.0" r="5.2"/><circle cx="1085.7" cy="1034.2" r="5.2"/><circle cx="1100.2" cy="957.0" r="5.2"/><circle cx="1100.2" cy="973.7" r="5.2"/><circle cx="1100.2" cy="1017.1" r="5.2"/><circle cx="1100.2" cy="1051.2" r="5.2"/><circle cx="1112.1" cy="910.9" r="5.2"/><circle cx="1112.1" cy="941.9" r="5.2"/><circle cx="1112.1" cy="954.3" r="5.2"/><circle cx="1112.1" cy="990.5" r="5.2"/><circle cx="1112.1" cy="1015.6" r="5.2"/><circle cx="1112.1" cy="1019.5" r="5.2"/><circle cx="1126.8" cy="970.6" r="5.2"/><circle cx="1126.8" cy="974.5" r="5.2"/><circle cx="1141.7" cy="956.7" r="5.2"/><circle cx="1141.7" cy="983.3" r="5.2"/><circle cx="1156.0" cy="971.4" r="5.2"/><circle cx="1156.0" cy="1012.5" r="5.2"/><circle cx="1015.7" cy="1070.6" r="5.2"/></g>
<line x1="903.3" y1="963.6" x2="1170.7" y2="938.4" stroke="#0000ff" stroke-width="4" stroke-linecap="round"/>
<line x1="903.3" y1="925.3" x2="1156.7" y2="944.6" stroke="#ff0000" stroke-width="4" stroke-linecap="round"/>
<line x1="903.3" y1="722.8" x2="1176" y2="691" stroke="#000" stroke-width="3" stroke-linecap="round"/>
<g font-size="23.8" fill="#000" stroke="#000" stroke-width="0.6" text-anchor="middle">
<text x="890.7" y="1121.2">15</text>
<text x="960.6" y="1121.2">20</text>
<text x="1030.4" y="1121.2">25</text>
<text x="1100.2" y="1121.2">30</text>
<text x="1170.1" y="1121.2">35</text>
</g>
<g font-size="23.8" fill="#000" stroke="#000" stroke-width="0.6" text-anchor="end">
<text x="869.2" y="1092.5">0</text>
<text x="869.2" y="1008.7">20</text>
<text x="869.2" y="925.0">40</text>
<text x="869.2" y="841.2">60</text>
<text x="869.2" y="757.5">80</text>
<text x="869.2" y="673.7">100</text>
</g>
<text x="808" y="630.9000000000001" font-size="37.4" font-weight="bold" stroke="#000" stroke-width="0.5">(d)</text>
<text transform="translate(828.5,877) rotate(-90)" text-anchor="middle" font-size="24.4" font-weight="bold" stroke="#000" stroke-width="0.5">Receptive language raw score</text>
<text x="1041.4" y="1156.5" text-anchor="middle" font-size="24.4" font-weight="bold" stroke="#000" stroke-width="0.5">Chronological age (years)</text>
</g>
<g id="panel-e">
<path d="M1309,664.3 H1930.9 V1083.2" fill="none" stroke="#a2a2a2" stroke-width="2.8"/>
<path d="M1308.8,663.1 V1090.7 M1301.0,1083.2 H1932.2" fill="none" stroke="#868686" stroke-width="2.8"/>
<path d="M1309.0,1083.2 V1090.7 M1378.1,1083.2 V1090.7 M1447.2,1083.2 V1090.7 M1516.3,1083.2 V1090.7 M1585.4,1083.2 V1090.7 M1654.5,1083.2 V1090.7 M1723.6,1083.2 V1090.7 M1792.7,1083.2 V1090.7 M1861.8,1083.2 V1090.7 M1930.9,1083.2 V1090.7 M1301,1083.2 H1309 M1301,999.5 H1309 M1301,915.8 H1309 M1301,832.0 H1309 M1301,748.3 H1309 M1301,664.6 H1309" fill="none" stroke="#868686" stroke-width="2.5"/>
<g fill="#0000ff"><rect x="1317.4" y="880.3" width="10.2" height="10.2" rx="1.5"/><rect x="1344.0" y="865.6" width="10.2" height="10.2" rx="1.5"/><rect x="1414.0" y="846.4" width="10.2" height="10.2" rx="1.5"/><rect x="1426.2" y="834.3" width="10.2" height="10.2" rx="1.5"/><rect x="1426.2" y="848.5" width="10.2" height="10.2" rx="1.5"/><rect x="1426.2" y="865.6" width="10.2" height="10.2" rx="1.5"/><rect x="1426.2" y="886.2" width="10.2" height="10.2" rx="1.5"/><rect x="1440.6" y="865.6" width="10.2" height="10.2" rx="1.5"/><rect x="1455.1" y="882.3" width="10.2" height="10.2" rx="1.5"/><rect x="1482.0" y="739.7" width="10.2" height="10.2" rx="1.5"/><rect x="1482.0" y="866.8" width="10.2" height="10.2" rx="1.5"/><rect x="1482.0" y="882.7" width="10.2" height="10.2" rx="1.5"/><rect x="1510.9" y="875.1" width="10.2" height="10.2" rx="1.5"/><rect x="1522.8" y="819.9" width="10.2" height="10.2" rx="1.5"/><rect x="1317.4" y="926.8" width="10.2" height="10.2" rx="1.5"/><rect x="1317.4" y="957.8" width="10.2" height="10.2" rx="1.5"/><rect x="1331.6" y="957.8" width="10.2" height="10.2" rx="1.5"/><rect x="1331.6" y="991.6" width="10.2" height="10.2" rx="1.5"/><rect x="1344.0" y="1013.3" width="10.2" height="10.2" rx="1.5"/><rect x="1344.0" y="1037.6" width="10.2" height="10.2" rx="1.5"/><rect x="1358.2" y="942.3" width="10.2" height="10.2" rx="1.5"/><rect x="1372.9" y="916.7" width="10.2" height="10.2" rx="1.5"/><rect x="1372.9" y="927.5" width="10.2" height="10.2" rx="1.5"/><rect x="1372.9" y="974.5" width="10.2" height="10.2" rx="1.5"/><rect x="1372.9" y="1050.0" width="10.2" height="10.2" rx="1.5"/><rect x="1385.1" y="928.3" width="10.2" height="10.2" rx="1.5"/><rect x="1385.1" y="943.0" width="10.2" height="10.2" rx="1.5"/><rect x="1385.1" y="1053.9" width="10.2" height="10.2" rx="1.5"/><rect x="1399.6" y="926.5" width="10.2" height="10.2" rx="1.5"/><rect x="1399.6" y="1001.2" width="10.2" height="10.2" rx="1.5"/><rect x="1414.0" y="945.4" width="10.2" height="10.2" rx="1.5"/><rect x="1414.0" y="972.0" width="10.2" height="10.2" rx="1.5"/><rect x="1426.2" y="921.3" width="10.2" height="10.2" rx="1.5"/><rect x="1426.2" y="1020.6" width="10.2" height="10.2" rx="1.5"/><rect x="1440.6" y="996.5" width="10.2" height="10.2" rx="1.5"/><rect x="1440.6" y="1035.0" width="10.2" height="10.2" rx="1.5"/><rect x="1455.1" y="945.4" width="10.2" height="10.2" rx="1.5"/><rect x="1455.1" y="957.0" width="10.2" height="10.2" rx="1.5"/><rect x="1455.1" y="1018.2" width="10.2" height="10.2" rx="1.5"/><rect x="1469.8" y="916.7" width="10.2" height="10.2" rx="1.5"/><rect x="1469.8" y="945.4" width="10.2" height="10.2" rx="1.5"/><rect x="1469.8" y="1018.2" width="10.2" height="10.2" rx="1.5"/><rect x="1469.8" y="1058.5" width="10.2" height="10.2" rx="1.5"/><rect x="1482.0" y="916.7" width="10.2" height="10.2" rx="1.5"/><rect x="1482.0" y="943.0" width="10.2" height="10.2" rx="1.5"/><rect x="1482.0" y="961.6" width="10.2" height="10.2" rx="1.5"/><rect x="1482.0" y="991.9" width="10.2" height="10.2" rx="1.5"/><rect x="1482.0" y="1003.8" width="10.2" height="10.2" rx="1.5"/><rect x="1482.0" y="1018.2" width="10.2" height="10.2" rx="1.5"/><rect x="1482.0" y="1054.2" width="10.2" height="10.2" rx="1.5"/><rect x="1496.5" y="916.7" width="10.2" height="10.2" rx="1.5"/><rect x="1496.5" y="933.3" width="10.2" height="10.2" rx="1.5"/><rect x="1496.5" y="1003.8" width="10.2" height="10.2" rx="1.5"/><rect x="1496.5" y="1042.3" width="10.2" height="10.2" rx="1.5"/><rect x="1510.9" y="909.7" width="10.2" height="10.2" rx="1.5"/><rect x="1510.9" y="916.7" width="10.2" height="10.2" rx="1.5"/><rect x="1522.8" y="1046.1" width="10.2" height="10.2" rx="1.5"/><rect x="1522.8" y="1050.0" width="10.2" height="10.2" rx="1.5"/><rect x="1537.5" y="933.3" width="10.2" height="10.2" rx="1.5"/><rect x="1537.5" y="944.6" width="10.2" height="10.2" rx="1.5"/><rect x="1537.5" y="962.4" width="10.2" height="10.2" rx="1.5"/><rect x="1552.3" y="916.7" width="10.2" height="10.2" rx="1.5"/><rect x="1552.3" y="945.4" width="10.2" height="10.2" rx="1.5"/><rect x="1552.3" y="962.4" width="10.2" height="10.2" rx="1.5"/><rect x="1552.3" y="967.1" width="10.2" height="10.2" rx="1.5"/><rect x="1552.3" y="1018.2" width="10.2" height="10.2" rx="1.5"/><rect x="1552.3" y="1058.5" width="10.2" height="10.2" rx="1.5"/><rect x="1566.5" y="974.0" width="10.2" height="10.2" rx="1.5"/><rect x="1579.1" y="933.3" width="10.2" height="10.2" rx="1.5"/><rect x="1579.1" y="945.4" width="10.2" height="10.2" rx="1.5"/><rect x="1579.1" y="953.1" width="10.2" height="10.2" rx="1.5"/><rect x="1579.1" y="962.4" width="10.2" height="10.2" rx="1.5"/><rect x="1579.1" y="1003.8" width="10.2" height="10.2" rx="1.5"/><rect x="1579.1" y="1058.5" width="10.2" height="10.2" rx="1.5"/><rect x="1593.0" y="938.4" width="10.2" height="10.2" rx="1.5"/><rect x="1593.0" y="1018.2" width="10.2" height="10.2" rx="1.5"/><rect x="1593.0" y="1025.2" width="10.2" height="10.2" rx="1.5"/><rect x="1414.0" y="1076.1" width="10.2" height="10.2" rx="1.5"/><rect x="1426.2" y="1066.3" width="10.2" height="10.2" rx="1.5"/><rect x="1455.1" y="1076.1" width="10.2" height="10.2" rx="1.5"/><rect x="1469.8" y="1076.1" width="10.2" height="10.2" rx="1.5"/><rect x="1496.5" y="1064.3" width="10.2" height="10.2" rx="1.5"/><rect x="1496.5" y="1076.1" width="10.2" height="10.2" rx="1.5"/><rect x="1522.8" y="1064.3" width="10.2" height="10.2" rx="1.5"/><rect x="1522.8" y="1076.1" width="10.2" height="10.2" rx="1.5"/><rect x="1537.5" y="1076.1" width="10.2" height="10.2" rx="1.5"/><rect x="1566.5" y="1070.4" width="10.2" height="10.2" rx="1.5"/><rect x="1579.1" y="1076.1" width="10.2" height="10.2" rx="1.5"/><rect x="1593.0" y="1076.1" width="10.2" height="10.2" rx="1.5"/><rect x="1634.5" y="863.4" width="10.2" height="10.2" rx="1.5"/><rect x="1607.8" y="938.4" width="10.2" height="10.2" rx="1.5"/><rect x="1634.5" y="1058.5" width="10.2" height="10.2" rx="1.5"/><rect x="1649.0" y="962.4" width="10.2" height="10.2" rx="1.5"/><rect x="1675.5" y="950.3" width="10.2" height="10.2" rx="1.5"/><rect x="1675.5" y="974.8" width="10.2" height="10.2" rx="1.5"/><rect x="1704.8" y="1059.8" width="10.2" height="10.2" rx="1.5"/><rect x="1716.8" y="1008.5" width="10.2" height="10.2" rx="1.5"/><rect x="1731.4" y="1003.8" width="10.2" height="10.2" rx="1.5"/><rect x="1813.7" y="1013.3" width="10.2" height="10.2" rx="1.5"/><rect x="1828.2" y="972.5" width="10.2" height="10.2" rx="1.5"/><rect x="1607.8" y="1076.1" width="10.2" height="10.2" rx="1.5"/><rect x="1620.0" y="1076.1" width="10.2" height="10.2" rx="1.5"/><rect x="1634.5" y="1076.1" width="10.2" height="10.2" rx="1.5"/><rect x="1649.0" y="1076.1" width="10.2" height="10.2" rx="1.5"/><rect x="1661.2" y="1076.1" width="10.2" height="10.2" rx="1.5"/><rect x="1690.2" y="1071.2" width="10.2" height="10.2" rx="1.5"/><rect x="1690.2" y="1076.1" width="10.2" height="10.2" rx="1.5"/><rect x="1704.8" y="1076.1" width="10.2" height="10.2" rx="1.5"/><rect x="1745.7" y="1071.5" width="10.2" height="10.2" rx="1.5"/><rect x="1801.5" y="1076.1" width="10.2" height="10.2" rx="1.5"/></g>
<g fill="#ff0000"><circle cx="1336.7" cy="863.4" r="5.2"/><circle cx="1349.1" cy="846.7" r="5.2"/><circle cx="1363.3" cy="776.3" r="5.2"/><circle cx="1378.0" cy="822.3" r="5.2"/><circle cx="1431.3" cy="788.5" r="5.2"/><circle cx="1445.7" cy="885.4" r="5.2"/><circle cx="1474.9" cy="853.6" r="5.2"/><circle cx="1487.1" cy="868.4" r="5.2"/><circle cx="1487.1" cy="887.8" r="5.2"/><circle cx="1516.0" cy="829.6" r="5.2"/><circle cx="1542.6" cy="829.6" r="5.2"/><circle cx="1322.5" cy="925.7" r="5.2"/><circle cx="1322.5" cy="933.4" r="5.2"/><circle cx="1322.5" cy="1047.4" r="5.2"/><circle cx="1336.7" cy="904.7" r="5.2"/><circle cx="1336.7" cy="914.5" r="5.2"/><circle cx="1336.7" cy="928.8" r="5.2"/><circle cx="1336.7" cy="932.6" r="5.2"/><circle cx="1336.7" cy="977.6" r="5.2"/><circle cx="1349.1" cy="977.6" r="5.2"/><circle cx="1349.1" cy="1001.6" r="5.2"/><circle cx="1363.3" cy="949.7" r="5.2"/><circle cx="1378.0" cy="1008.9" r="5.2"/><circle cx="1390.2" cy="909.4" r="5.2"/><circle cx="1390.2" cy="1001.6" r="5.2"/><circle cx="1404.7" cy="948.6" r="5.2"/><circle cx="1404.7" cy="1025.7" r="5.2"/><circle cx="1404.7" cy="1030.8" r="5.2"/><circle cx="1419.1" cy="916.7" r="5.2"/><circle cx="1419.1" cy="962.1" r="5.2"/><circle cx="1431.3" cy="897.0" r="5.2"/><circle cx="1431.3" cy="948.6" r="5.2"/><circle cx="1431.3" cy="972.9" r="5.2"/><circle cx="1431.3" cy="979.9" r="5.2"/><circle cx="1460.2" cy="938.4" r="5.2"/><circle cx="1460.2" cy="966.7" r="5.2"/><circle cx="1460.2" cy="1013.6" r="5.2"/><circle cx="1460.2" cy="1042.7" r="5.2"/><circle cx="1474.9" cy="916.7" r="5.2"/><circle cx="1474.9" cy="976.0" r="5.2"/><circle cx="1474.9" cy="1008.9" r="5.2"/><circle cx="1474.9" cy="1052.3" r="5.2"/><circle cx="1487.1" cy="960.9" r="5.2"/><circle cx="1487.1" cy="989.5" r="5.2"/><circle cx="1487.1" cy="1023.3" r="5.2"/><circle cx="1487.1" cy="1035.4" r="5.2"/><circle cx="1501.6" cy="899.6" r="5.2"/><circle cx="1501.6" cy="909.4" r="5.2"/><circle cx="1501.6" cy="962.6" r="5.2"/><circle cx="1501.6" cy="972.2" r="5.2"/><circle cx="1501.6" cy="1035.4" r="5.2"/><circle cx="1501.6" cy="1042.7" r="5.2"/><circle cx="1516.0" cy="943.5" r="5.2"/><circle cx="1516.0" cy="955.4" r="5.2"/><circle cx="1516.0" cy="977.1" r="5.2"/><circle cx="1516.0" cy="996.7" r="5.2"/><circle cx="1516.0" cy="1042.7" r="5.2"/><circle cx="1516.0" cy="1052.3" r="5.2"/><circle cx="1527.9" cy="955.4" r="5.2"/><circle cx="1527.9" cy="962.6" r="5.2"/><circle cx="1527.9" cy="999.3" r="5.2"/><circle cx="1527.9" cy="1001.6" r="5.2"/><circle cx="1527.9" cy="1013.6" r="5.2"/><circle cx="1542.6" cy="955.4" r="5.2"/><circle cx="1542.6" cy="996.7" r="5.2"/><circle cx="1542.6" cy="1042.7" r="5.2"/><circle cx="1542.6" cy="1052.3" r="5.2"/><circle cx="1542.6" cy="1059.8" r="5.2"/><circle cx="1557.4" cy="897.4" r="5.2"/><circle cx="1557.4" cy="977.1" r="5.2"/><circle cx="1557.4" cy="1054.7" r="5.2"/><circle cx="1571.6" cy="966.7" r="5.2"/><circle cx="1571.6" cy="972.9" r="5.2"/><circle cx="1571.6" cy="984.6" r="5.2"/><circle cx="1571.6" cy="1000.4" r="5.2"/><circle cx="1571.6" cy="1047.4" r="5.2"/><circle cx="1584.2" cy="897.4" r="5.2"/><circle cx="1584.2" cy="943.5" r="5.2"/><circle cx="1598.1" cy="960.5" r="5.2"/><circle cx="1598.1" cy="1047.4" r="5.2"/><circle cx="1598.1" cy="1059.8" r="5.2"/><circle cx="1460.2" cy="1081.2" r="5.2"/><circle cx="1474.9" cy="1071.4" r="5.2"/><circle cx="1501.6" cy="1081.2" r="5.2"/><circle cx="1516.0" cy="1081.2" r="5.2"/><circle cx="1542.6" cy="1081.2" r="5.2"/><circle cx="1557.4" cy="1081.2" r="5.2"/><circle cx="1571.6" cy="1071.4" r="5.2"/><circle cx="1571.6" cy="1080.2" r="5.2"/><circle cx="1598.1" cy="1071.4" r="5.2"/><circle cx="1598.1" cy="1081.2" r="5.2"/><circle cx="1695.3" cy="846.7" r="5.2"/><circle cx="1612.9" cy="1042.7" r="5.2"/><circle cx="1625.1" cy="938.5" r="5.2"/><circle cx="1625.1" cy="996.7" r="5.2"/><circle cx="1625.1" cy="1025.7" r="5.2"/><circle cx="1625.1" cy="1064.4" r="5.2"/><circle cx="1654.1" cy="962.6" r="5.2"/><circle cx="1654.1" cy="1059.3" r="5.2"/><circle cx="1680.6" cy="977.1" r="5.2"/><circle cx="1709.9" cy="1059.3" r="5.2"/><circle cx="1806.6" cy="948.4" r="5.2"/><circle cx="1612.9" cy="1071.4" r="5.2"/><circle cx="1612.9" cy="1081.2" r="5.2"/><circle cx="1625.1" cy="1075.5" r="5.2"/><circle cx="1625.1" cy="1081.2" r="5.2"/><circle cx="1639.6" cy="1069.4" r="5.2"/><circle cx="1654.1" cy="1081.2" r="5.2"/><circle cx="1666.3" cy="1081.2" r="5.2"/><circle cx="1736.5" cy="1069.4" r="5.2"/></g>
<line x1="1310.5" y1="941.4" x2="1835.3" y2="1068" stroke="#0000ff" stroke-width="4" stroke-linecap="round"/>
<line x1="1310.5" y1="920.8" x2="1800" y2="1080.6" stroke="#ff0000" stroke-width="4" stroke-linecap="round"/>
<line x1="1309" y1="682" x2="1876.8" y2="699.2" stroke="#000" stroke-width="3" stroke-linecap="round"/>
<g font-size="23.8" fill="#000" stroke="#000" stroke-width="0.6" text-anchor="middle">
<text x="1309.5" y="1120.4">35</text>
<text x="1378.6" y="1120.4">40</text>
<text x="1447.7" y="1120.4">45</text>
<text x="1516.8" y="1120.4">50</text>
<text x="1585.9" y="1120.4">55</text>
<text x="1655.0" y="1120.4">60</text>
<text x="1724.1" y="1120.4">65</text>
<text x="1793.2" y="1120.4">70</text>
<text x="1862.3" y="1120.4">75</text>
<text x="1931.4" y="1120.4">80</text>
</g>
<g font-size="23.8" fill="#000" stroke="#000" stroke-width="0.6" text-anchor="end">
<text x="1288.0" y="1091.7">0</text>
<text x="1288.0" y="1008.0">20</text>
<text x="1288.0" y="924.3">40</text>
<text x="1288.0" y="840.5">60</text>
<text x="1288.0" y="756.8">80</text>
<text x="1288.0" y="673.1">100</text>
</g>
<text x="1221.5" y="630.3000000000001" font-size="37.4" font-weight="bold" stroke="#000" stroke-width="0.5">(e)</text>
<text transform="translate(1240.5,877) rotate(-90)" text-anchor="middle" font-size="24.4" font-weight="bold" stroke="#000" stroke-width="0.5">Receptive language raw score</text>
<text x="1648.9" y="1156.5" text-anchor="middle" font-size="24.4" font-weight="bold" stroke="#000" stroke-width="0.5">Chronological age (years)</text>
</g>
<rect x="1635" y="722.6" width="290" height="83" fill="#fff" stroke="#a2a2a2" stroke-width="2.6"/>
<rect x="1659.4" y="730.5" width="10.2" height="10.2" rx="1.5" fill="#0000ff"/>
<circle cx="1663.0" cy="762.6" r="5.2" fill="#ff0000"/>
<line x1="1646.0" y1="792.5" x2="1681.5" y2="792.5" stroke="#000" stroke-width="3" stroke-linecap="round"/>
<g font-size="20.9" fill="#000" stroke="#000" stroke-width="0.6">
<text x="1684.7" y="744.1">Males</text>
<text x="1684.7" y="771.6">Females</text>
<text x="1684.7" y="799.5">Age-typical performance</text>
</g>
</svg></body></html>
